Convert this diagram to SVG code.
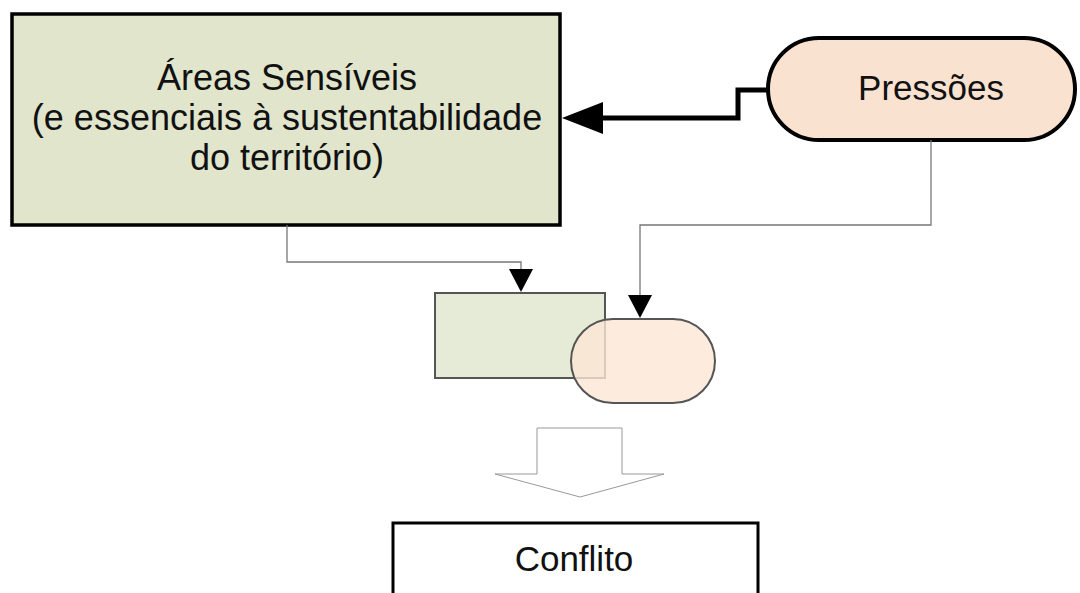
<svg xmlns="http://www.w3.org/2000/svg" width="1080" height="593" viewBox="0 0 1080 593">
<style>
.t{font-family:"Liberation Sans",Arial,sans-serif;fill:#111;text-anchor:middle}
.thin{fill:none;stroke:#777;stroke-width:1.3}
</style>
<rect width="1080" height="593" fill="#fff"/>
<g id="areas">
<rect x="12" y="14" width="548" height="211" fill="#e1e5cc" stroke="#000" stroke-width="3.5"/>
<text class="t" x="287" y="90" font-size="36">Áreas Sensíveis</text>
<text class="t" x="287" y="130" font-size="36">(e essenciais à sustentabilidade</text>
<text class="t" x="287" y="170" font-size="36">do território)</text>
</g>
<g id="pressoes">
<rect x="768" y="38" width="307" height="102" rx="51" ry="51" fill="#fae2d1" stroke="#000" stroke-width="4"/>
<text class="t" x="931" y="100" font-size="35">Pressões</text>
</g>
<g id="overlap">
<rect x="435" y="293" width="170" height="85" fill="#e5ebd6" stroke="#555" stroke-width="2"/>
<rect x="571" y="319" width="144" height="84" rx="42" ry="42" fill="#fde6d4" fill-opacity="0.8" stroke="#555" stroke-width="2"/>
</g>
<g id="blockarrow">
<path d="M537,428 L622,428 L622,474 L664,474 L580,497 L495,474 L537,474 Z" fill="#fff" stroke="#999" stroke-width="1"/>
</g>
<g id="conflito">
<rect x="393" y="523" width="365" height="80" fill="#fff" stroke="#000" stroke-width="3"/>
<text class="t" x="574" y="571" font-size="35">Conflito</text>
</g>
<g id="connectors">
<path d="M768,90 L738,90 L738,118 L602,118" fill="none" stroke="#000" stroke-width="5"/>
<path d="M562,118 L603,102 L603,134 Z" fill="#000"/>
<path class="thin" d="M287,225 L287,262 L521,262 L521,269"/>
<path d="M521,292 L509,269 L533,269 Z" fill="#000"/>
<path class="thin" d="M931,140 L931,225 L640,225 L640,295"/>
<path d="M640,318 L628,295 L652,295 Z" fill="#000"/>
</g>
</svg>
